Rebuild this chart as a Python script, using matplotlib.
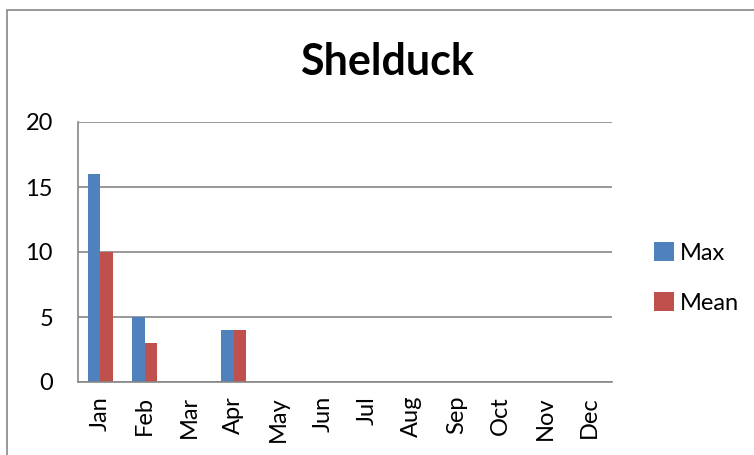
import numpy as np
import matplotlib
matplotlib.use('Agg')
import matplotlib.pyplot as plt
from matplotlib.patches import Rectangle

months = ['Jan', 'Feb', 'Mar', 'Apr', 'May', 'Jun', 'Jul', 'Aug', 'Sep', 'Oct', 'Nov', 'Dec']
max_vals = [16, 5, 0, 4, 0, 0, 0, 0, 0, 0, 0, 0]
mean_vals = [10, 3, 0, 4, 0, 0, 0, 0, 0, 0, 0, 0]

plt.rcParams['font.family'] = ['Lato', 'DejaVu Sans']

fig = plt.figure(figsize=(7.54, 4.55), dpi=100)
ax = fig.add_axes([78 / 754, 1 - 382 / 455, (612 - 78) / 754, (382 - 122) / 455])

# outer chart border
fig.add_artist(Rectangle((7 / 754, -0.05), 1.0, 1 - 10 / 455 + 0.05, transform=fig.transFigure,
                         fill=False, edgecolor='#868686', linewidth=1.2))

x = np.arange(len(months))
w = 1 / 3.5
b1 = ax.bar(x - w / 2, max_vals, w, color='#4F81BD', label='Max')
b2 = ax.bar(x + w / 2, mean_vals, w, color='#C0504D', label='Mean')

ax.set_xlim(-0.5, 11.5)
ax.set_ylim(0, 20)
ax.set_yticks([0, 5, 10, 15, 20])
ax.set_xticks(x)
ax.set_xticklabels(months, rotation=90, fontsize=17)
ax.tick_params(axis='y', labelsize=17, length=0, pad=18)
ax.tick_params(axis='x', length=0, pad=10)
ax.yaxis.grid(True, color='#868686', linewidth=1.2)
ax.set_axisbelow(True)
for s in ['top', 'right']:
    ax.spines[s].set_visible(False)
for s in ['left', 'bottom']:
    ax.spines[s].set_color('#868686')
    ax.spines[s].set_linewidth(1.2)

fig.text(387 / 754, 1 - 62 / 455, 'Shelduck', ha='center', va='center', fontsize=31, fontweight='bold')

fig.legend(handles=[b1, b2], labels=['Max', 'Mean'], loc='center left',
           bbox_to_anchor=(633 / 754, 1 - 278 / 455), frameon=False, fontsize=17,
           handlelength=0.85, handleheight=0.85, handletextpad=0.25, labelspacing=1.2)

fig.savefig('out.png', dpi=100)
